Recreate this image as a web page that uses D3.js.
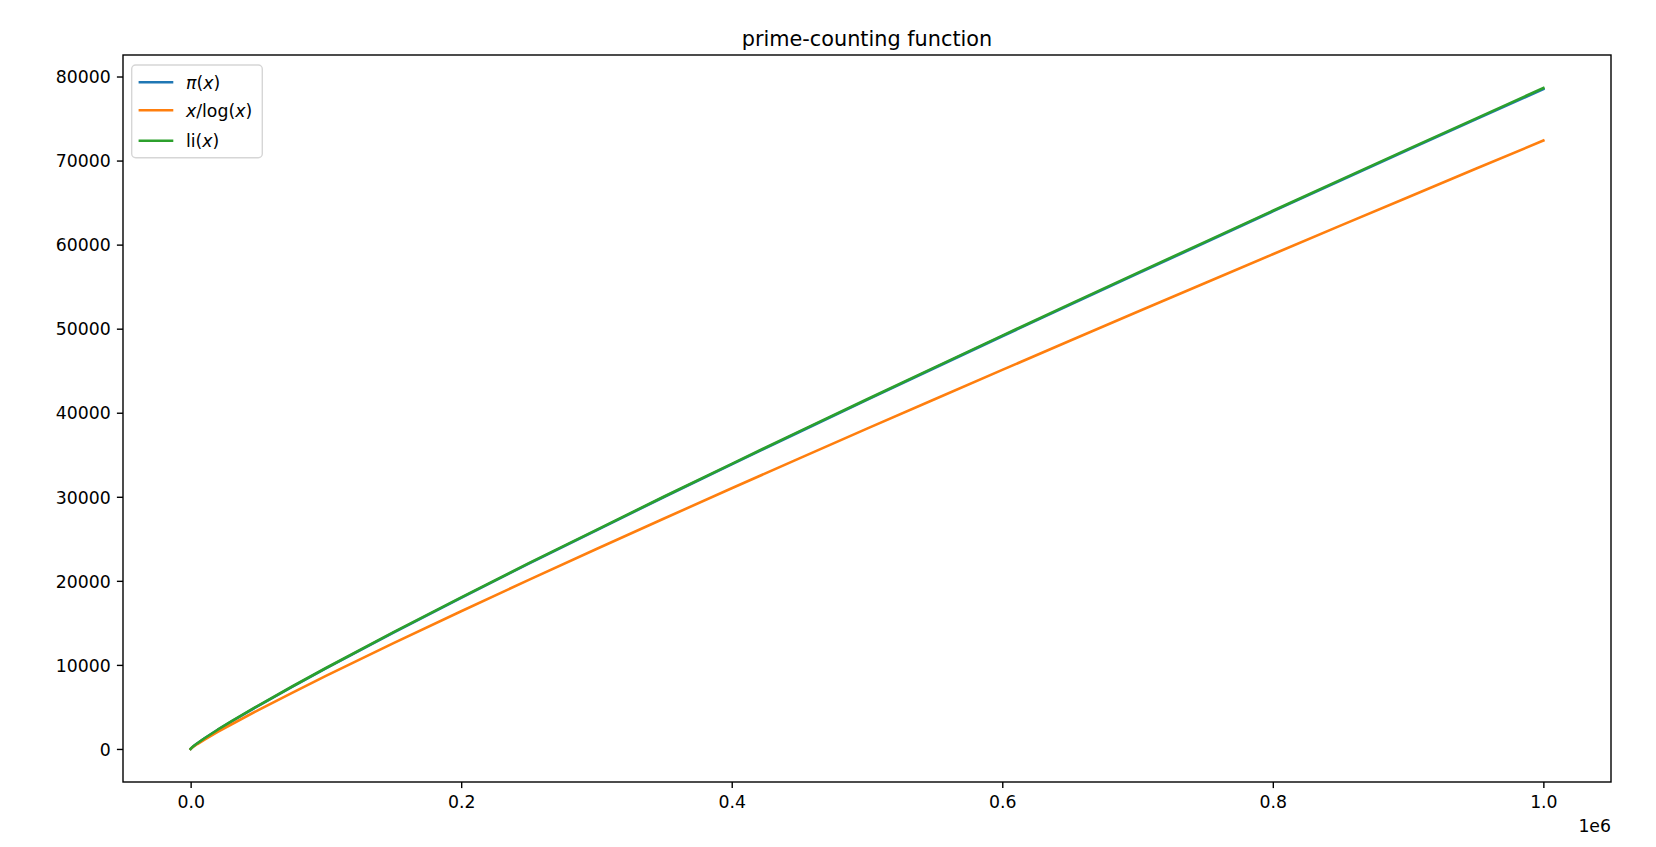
<!DOCTYPE html>
<html>
<head>
<meta charset="utf-8">
<script src="https://cdn.jsdelivr.net/npm/d3@7"></script>
<style>
  body { margin: 0; background: #fff; }
  svg { display: block; font-family: "DejaVu Sans", sans-serif; }
</style>
</head>
<body>
<svg id="chart" width="1656" height="847"></svg>
<script>
// sample points along x
var xs = [2, 1000, 2000, 5000, 10000, 20000, 30000, 50000, 75000, 100000, 150000, 200000,
  250000, 300000, 350000, 400000, 450000, 500000, 550000, 600000, 650000, 700000,
  750000, 800000, 850000, 900000, 950000, 1000000];

// pi(x)
var piVals = [1, 168, 303, 669, 1229, 2262, 3245, 5133, 7393, 9592, 13848, 17984,
  22044, 25997, 29977, 33860, 37706, 41538, 45322, 49098, 52831, 56543,
  60238, 63951, 67617, 71274, 74907, 78498];

// x/log(x)
var xlogVals = [2.9, 144.8, 263.1, 587.0, 1085.7, 2019.5, 2910.1, 4621.2, 6681.4, 8685.9, 12585.5, 16385.3,
  20113.9, 23787.8, 27417.3, 31009.7, 34570.2, 38102.9, 41610.6, 45096.1, 48562.9, 52010.6,
  55441.4, 58856.4, 62257.3, 65644.6, 69019.6, 72382.4];

// li(x)
var liVals = [1.0, 177.6, 314.8, 684.3, 1246.1, 2288, 3276, 5166, 7431, 9630, 13890, 18036,
  22101, 26062, 30037, 33922, 37790, 41606, 45400, 49173, 52920, 56642,
  60330, 64033, 67710, 71354, 74990, 78628];

var yTicks = [0, 10000, 20000, 30000, 40000, 50000, 60000, 70000, 80000];
var xTicks = [0, 200000, 400000, 600000, 800000, 1000000];

var seriesNames = ["pi", "xlog", "li"];
var colors = ["#1f77b4", "#ff7f0e", "#2ca02c"];

var svg = d3.select("#chart");
var axLeft = 123, axRight = 1611, axTop = 55, axBottom = 782;

var xMin = 0, xMax = 1000000;
var yMin = 0, yMax = d3.max(liVals);
var xPad = (xMax - xMin) * 0.05, yPad = (yMax - yMin) * 0.05;

var x = d3.scaleLinear().domain([xMin - xPad, xMax + xPad]).range([axLeft, axRight]);
var y = d3.scaleLinear().domain([yMin - yPad, yMax + yPad]).range([axBottom, axTop]);

var fontSize = "17.3px";
var lw = 2.6;

// lines
var allVals = [piVals, xlogVals, liVals];
var line = d3.line()
  .x(function(d) { return x(d[0]); })
  .y(function(d) { return y(d[1]); });

var plot = svg.append("g");
allVals.forEach(function(vals, i) {
  var pts = xs.map(function(xv, j) { return [xv, vals[j]]; });
  plot.append("path")
    .datum(pts)
    .attr("fill", "none")
    .attr("stroke", colors[i])
    .attr("stroke-width", lw)
    .attr("stroke-linecap", "square")
    .attr("stroke-linejoin", "round")
    .attr("d", line);
});

// axes
var xAxis = d3.axisBottom(x)
  .tickValues(xTicks)
  .tickSize(6.1)
  .tickSizeOuter(0)
  .tickPadding(6.1)
  .tickFormat(function(d) { return (d / 1e6).toFixed(1); });

var yAxis = d3.axisLeft(y)
  .tickValues(yTicks)
  .tickSize(6.1)
  .tickSizeOuter(0)
  .tickPadding(6.1)
  .tickFormat(function(d) { return d; });

var gx = svg.append("g").attr("transform", "translate(0," + axBottom + ")").call(xAxis);
var gy = svg.append("g").attr("transform", "translate(" + axLeft + ",0)").call(yAxis);

[gx, gy].forEach(function(g) {
  g.select(".domain").remove();
  g.selectAll(".tick line").attr("stroke", "#000").attr("stroke-width", 1.4);
  g.selectAll(".tick text")
    .attr("fill", "#000")
    .style("font-family", "DejaVu Sans")
    .style("font-size", fontSize);
});
gx.selectAll(".tick text").attr("dy", "0.8em");
gy.selectAll(".tick text").attr("dy", "0.36em");

// frame (spines)
svg.append("rect")
  .attr("x", axLeft).attr("y", axTop)
  .attr("width", axRight - axLeft).attr("height", axBottom - axTop)
  .attr("fill", "none")
  .attr("stroke", "#000")
  .attr("stroke-width", 1.4);

// offset text
svg.append("text")
  .attr("x", axRight).attr("y", 831.5)
  .attr("text-anchor", "end")
  .style("font-size", fontSize)
  .text("1e6");

// title
svg.append("text")
  .attr("x", (axLeft + axRight) / 2).attr("y", 45.7)
  .attr("text-anchor", "middle")
  .style("font-size", "20.8px")
  .text("prime-counting function");

// legend
var legend = svg.append("g");
legend.append("rect")
  .attr("x", 131.7).attr("y", 65)
  .attr("width", 130.6).attr("height", 92.7)
  .attr("rx", 4).attr("ry", 4)
  .attr("fill", "#fff")
  .attr("fill-opacity", 0.8)
  .attr("stroke", "#d6d6d6")
  .attr("stroke-width", 1.4);

var rowY = [82.3, 110.3, 140.7];
var labelParts = [
  [["π", true], ["(", false], ["x", true], [")", false]],
  [["x", true], ["/log(", false], ["x", true], [")", false]],
  [["li(", false], ["x", true], [")", false]]
];
seriesNames.forEach(function(name, i) {
  legend.append("line")
    .attr("x1", 138.6).attr("x2", 173.3)
    .attr("y1", rowY[i]).attr("y2", rowY[i])
    .attr("stroke", colors[i])
    .attr("stroke-width", lw);
  var t = legend.append("text")
    .attr("x", 186).attr("y", rowY[i])
    .attr("dy", "0.36em")
    .style("font-size", fontSize);
  labelParts[i].forEach(function(p) {
    t.append("tspan")
      .style("font-style", p[1] ? "italic" : "normal")
      .text(p[0]);
  });
});
</script>
</body>
</html>
